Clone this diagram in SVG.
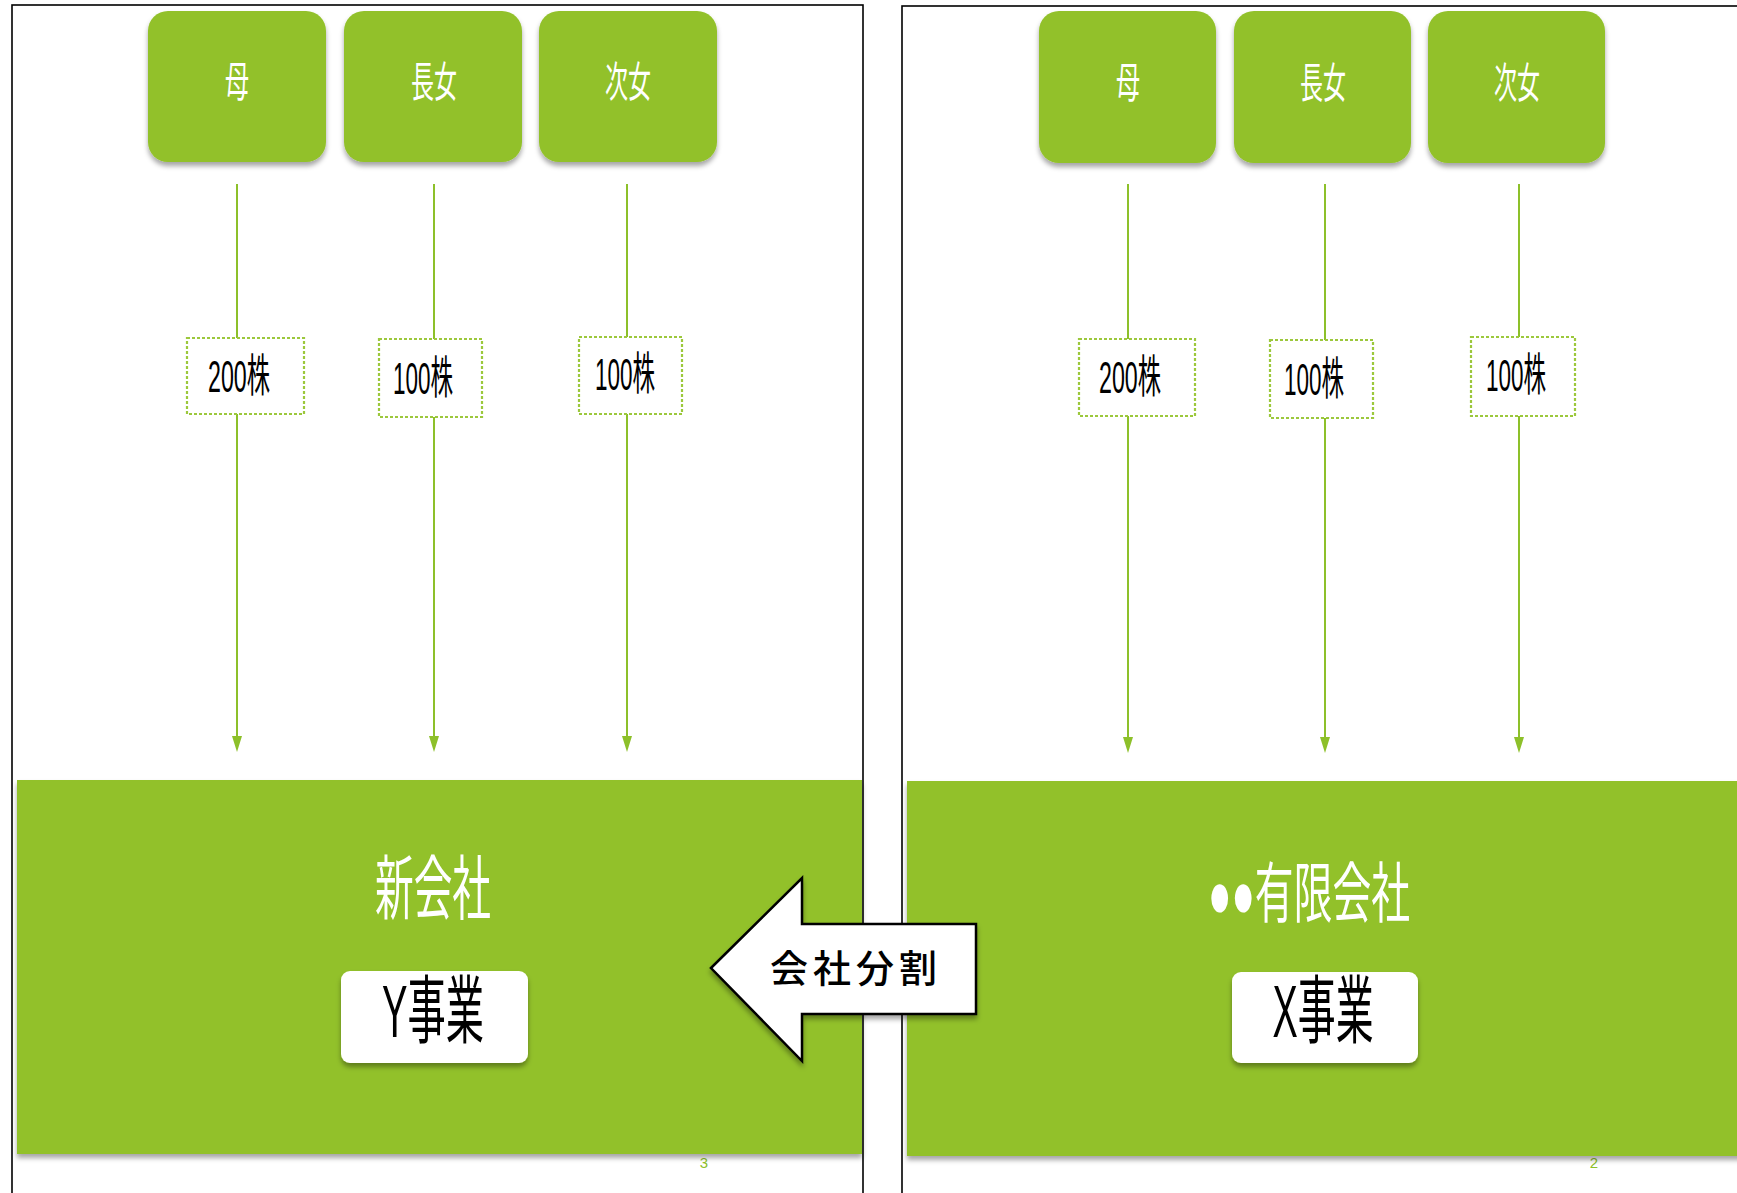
<svg xmlns="http://www.w3.org/2000/svg" width="1737" height="1193" viewBox="0 0 1737 1193">
<style>
.frame{fill:none;stroke:#000;stroke-width:1.6}
.box{fill:#92C12A;filter:url(#sh)}
.big{fill:#92C12A;filter:url(#sh2)}
.lbl{fill:#fff;stroke:#9CC83C;stroke-width:2.2;stroke-dasharray:3 2}
.conn{stroke:#8DC02A;stroke-width:2;fill:none}
.wtxt{fill:#fff;font-family:"Noto Sans CJK JP",sans-serif;text-anchor:middle}
.btxt{fill:#000;font-family:"Liberation Sans","Noto Sans CJK JP",sans-serif;text-anchor:middle}
.biz{fill:#fff;filter:url(#sh)}
.pg{fill:#8DC02A;font-family:"Liberation Sans",sans-serif;font-size:15px;text-anchor:middle}
</style>
<defs>
<filter id="sh" x="-10%" y="-10%" width="120%" height="130%">
<feDropShadow dx="0" dy="4" stdDeviation="2.5" flood-color="#000" flood-opacity="0.35"/>
</filter>
<filter id="sh2" x="-5%" y="-5%" width="110%" height="115%">
<feDropShadow dx="0" dy="4" stdDeviation="2.5" flood-color="#000" flood-opacity="0.35"/>
</filter>
</defs>
<rect width="1737" height="1193" fill="#fff"/>
<g id="frames">
<rect class="frame" x="12" y="5" width="851" height="1200"/>
<rect class="frame" x="902" y="6" width="900" height="1200"/>
</g>
<g id="connectors">
<line class="conn" x1="237" y1="184" x2="237" y2="338"/>
<line class="conn" x1="237" y1="414" x2="237" y2="740"/>
<path d="M232,736 L242,736 L237,752 Z" fill="#8DC02A"/>
<line class="conn" x1="434" y1="184" x2="434" y2="339"/>
<line class="conn" x1="434" y1="417" x2="434" y2="740"/>
<path d="M429,736 L439,736 L434,752 Z" fill="#8DC02A"/>
<line class="conn" x1="627" y1="184" x2="627" y2="337"/>
<line class="conn" x1="627" y1="414" x2="627" y2="740"/>
<path d="M622,736 L632,736 L627,752 Z" fill="#8DC02A"/>
<line class="conn" x1="1128" y1="184" x2="1128" y2="339"/>
<line class="conn" x1="1128" y1="415" x2="1128" y2="741"/>
<path d="M1123,737 L1133,737 L1128,753 Z" fill="#8DC02A"/>
<line class="conn" x1="1325" y1="184" x2="1325" y2="340"/>
<line class="conn" x1="1325" y1="418" x2="1325" y2="741"/>
<path d="M1320,737 L1330,737 L1325,753 Z" fill="#8DC02A"/>
<line class="conn" x1="1519" y1="184" x2="1519" y2="337"/>
<line class="conn" x1="1519" y1="416" x2="1519" y2="741"/>
<path d="M1514,737 L1524,737 L1519,753 Z" fill="#8DC02A"/>
</g>
<g id="L-mother">
<rect class="box" x="148" y="11" width="178" height="151" rx="20"/>
<text class="wtxt" x="237" y="97" font-size="42" textLength="24" lengthAdjust="spacingAndGlyphs">母</text>
</g>
<g id="L-eldest">
<rect class="box" x="344" y="11" width="178" height="151" rx="20"/>
<text class="wtxt" x="434" y="97" font-size="42" textLength="46" lengthAdjust="spacingAndGlyphs">長女</text>
</g>
<g id="L-second">
<rect class="box" x="539" y="11" width="178" height="151" rx="20"/>
<text class="wtxt" x="628" y="97" font-size="42" textLength="46" lengthAdjust="spacingAndGlyphs">次女</text>
</g>
<g id="R-mother">
<rect class="box" x="1039" y="11" width="177" height="152" rx="20"/>
<text class="wtxt" x="1128" y="98" font-size="42" textLength="24" lengthAdjust="spacingAndGlyphs">母</text>
</g>
<g id="R-eldest">
<rect class="box" x="1234" y="11" width="177" height="152" rx="20"/>
<text class="wtxt" x="1323" y="98" font-size="42" textLength="46" lengthAdjust="spacingAndGlyphs">長女</text>
</g>
<g id="R-second">
<rect class="box" x="1428" y="11" width="177" height="152" rx="20"/>
<text class="wtxt" x="1517" y="98" font-size="42" textLength="46" lengthAdjust="spacingAndGlyphs">次女</text>
</g>
<g id="L-lbl1">
<rect class="lbl" x="187" y="338" width="117" height="76"/>
<text class="btxt" x="239" y="392" font-size="45" textLength="62" lengthAdjust="spacingAndGlyphs">200株</text>
</g>
<g id="L-lbl2">
<rect class="lbl" x="379" y="339" width="103" height="78"/>
<text class="btxt" x="423" y="394" font-size="45" textLength="60" lengthAdjust="spacingAndGlyphs">100株</text>
</g>
<g id="L-lbl3">
<rect class="lbl" x="579" y="337" width="103" height="77"/>
<text class="btxt" x="625" y="390" font-size="45" textLength="60" lengthAdjust="spacingAndGlyphs">100株</text>
</g>
<g id="R-lbl1">
<rect class="lbl" x="1079" y="339" width="116" height="77"/>
<text class="btxt" x="1130" y="393" font-size="45" textLength="62" lengthAdjust="spacingAndGlyphs">200株</text>
</g>
<g id="R-lbl2">
<rect class="lbl" x="1270" y="340" width="103" height="78"/>
<text class="btxt" x="1314" y="395" font-size="45" textLength="60" lengthAdjust="spacingAndGlyphs">100株</text>
</g>
<g id="R-lbl3">
<rect class="lbl" x="1471" y="337" width="104" height="79"/>
<text class="btxt" x="1516" y="391" font-size="45" textLength="60" lengthAdjust="spacingAndGlyphs">100株</text>
</g>
<text class="pg" x="704" y="1168">3</text>
<text class="pg" x="1594" y="1168">2</text>
<g id="L-newco">
<rect class="big" x="17" y="780" width="845" height="374"/>
<text class="wtxt" x="433" y="914" font-size="70" textLength="116" lengthAdjust="spacingAndGlyphs">新会社</text>
</g>
<g id="L-ybiz">
<rect class="biz" x="341" y="971" width="187" height="92" rx="9"/>
<text class="btxt" x="433" y="1037" font-size="74" textLength="102" lengthAdjust="spacingAndGlyphs">Y事業</text>
</g>
<g id="R-company">
<rect class="big" x="907" y="781" width="840" height="375"/>
<text class="wtxt" x="1309" y="917" font-size="66" textLength="202" lengthAdjust="spacingAndGlyphs" style="font-family:'Liberation Sans','Noto Sans CJK JP',sans-serif">●●有限会社</text>
</g>
<g id="R-xbiz">
<rect class="biz" x="1232" y="972" width="186" height="91" rx="9"/>
<text class="btxt" x="1323" y="1037" font-size="74" textLength="101" lengthAdjust="spacingAndGlyphs">X事業</text>
</g>
<g id="split-arrow">
<polygon points="711,968 802,878 802,924 976,924 976,1014 802,1014 802,1061" fill="#fff" stroke="#000" stroke-width="2.5" stroke-linejoin="miter" filter="url(#sh)"/>
<text x="856" y="982" font-size="38" font-weight="500" letter-spacing="5" text-anchor="middle" style="font-family:'Noto Sans CJK JP',sans-serif" fill="#000">会社分割</text>
</g>
</svg>
